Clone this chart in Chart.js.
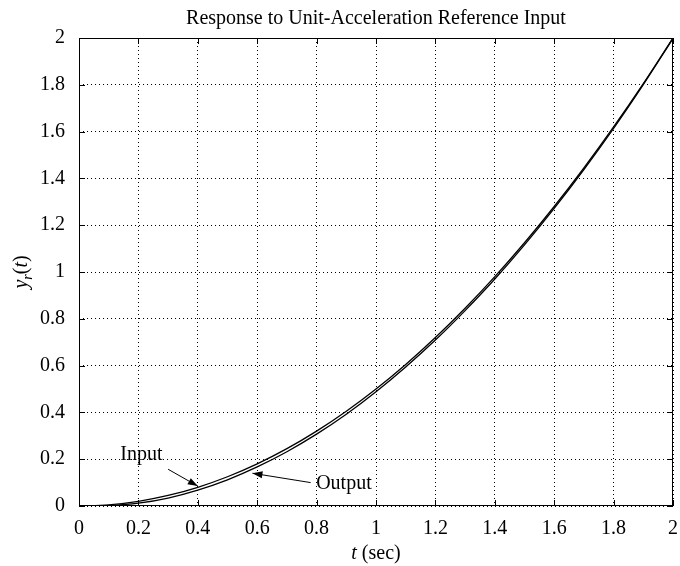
<!DOCTYPE html>
<html>
<head>
<meta charset="utf-8">
<script src="https://cdn.jsdelivr.net/npm/chart.js@4"></script>
<style>
  html, body { margin: 0; padding: 0; background: #fff; }
  #wrap { width: 680px; height: 566px; }
</style>
</head>
<body>
<div id="wrap"><canvas id="chart" width="680" height="566"></canvas></div>
<script>
// time axis (sec)
const times = [0, 0.1, 0.2, 0.3, 0.4, 0.5, 0.6, 0.7, 0.8, 0.9, 1.0, 1.1, 1.2, 1.3, 1.4, 1.5, 1.6, 1.7, 1.8, 1.9, 2.0];
// reference input and system output
const inputVals = [0, 0.005, 0.02, 0.045, 0.08, 0.125, 0.18, 0.245, 0.32, 0.405, 0.5, 0.605, 0.72, 0.845, 0.98, 1.125, 1.28, 1.445, 1.62, 1.805, 2.0];
const outputVals = [0, 0.002, 0.012, 0.034, 0.068, 0.112, 0.167, 0.232, 0.307, 0.392, 0.488, 0.594, 0.709, 0.835, 0.970, 1.116, 1.272, 1.438, 1.614, 1.801, 1.998];
const xTicks = [0, 0.2, 0.4, 0.6, 0.8, 1, 1.2, 1.4, 1.6, 1.8, 2];
const yTicks = [0, 0.2, 0.4, 0.6, 0.8, 1, 1.2, 1.4, 1.6, 1.8, 2];

// text labels with arrows, in data units
const notes = [
    { text: 'Input', x: 0.21, y: 0.221, from: [0.30, 0.157], to: [0.40, 0.085] },
    { text: 'Output', x: 0.892, y: 0.094, from: [0.78, 0.10], to: [0.584, 0.14] },
];

const FONT = '"Liberation Serif", "Times New Roman", serif';
const FS = 20;

const pts = (vals) => times.map((t, i) => ({ x: t, y: vals[i] }));

const frame = {
    id: 'frame',
    afterDraw(chart) {
        const c = chart.ctx;
        const a = chart.chartArea;
        const xs = chart.scales.x, ys = chart.scales.y;
        c.save();
        // box
        c.strokeStyle = '#000';
        c.lineWidth = 1;
        c.strokeRect(a.left + 0.5, a.top + 0.5, a.right - a.left - 1, a.bottom - a.top - 1);
        // inward tick marks on all sides
        c.beginPath();
        xTicks.forEach(v => {
            const px = Math.round(xs.getPixelForValue(v)) + 0.5;
            c.moveTo(px, a.bottom); c.lineTo(px, a.bottom - 6);
            c.moveTo(px, a.top); c.lineTo(px, a.top + 6);
        });
        yTicks.forEach(v => {
            const py = Math.round(ys.getPixelForValue(v)) + 0.5;
            c.moveTo(a.left, py); c.lineTo(a.left + 6, py);
            c.moveTo(a.right, py); c.lineTo(a.right - 6, py);
        });
        c.stroke();

        // title
        c.fillStyle = '#000';
        c.font = FS + 'px ' + FONT;
        c.textAlign = 'center';
        c.textBaseline = 'alphabetic';
        c.fillText('Response to Unit-Acceleration Reference Input', (a.left + a.right) / 2, 24);

        // x title: italic t + " (sec)"
        c.font = 'italic ' + FS + 'px ' + FONT;
        const tW = c.measureText('t').width;
        c.font = FS + 'px ' + FONT;
        const rest = ' (sec)';
        const rW = c.measureText(rest).width;
        let sx = (a.left + a.right) / 2 - (tW + rW) / 2;
        c.textAlign = 'left';
        c.font = 'italic ' + FS + 'px ' + FONT;
        c.fillText('t', sx, 559);
        c.font = FS + 'px ' + FONT;
        c.fillText(rest, sx + tW, 559);

        // y title: y_r(t), rotated
        c.translate(27, (a.top + a.bottom) / 2);
        c.rotate(-Math.PI / 2);
        const parts = [
            ['y', 'italic ' + FS + 'px ' + FONT, 0],
            ['r', 'italic 14px ' + FONT, 5],
            ['(', FS + 'px ' + FONT, 0],
            ['t', 'italic ' + FS + 'px ' + FONT, 0],
            [')', FS + 'px ' + FONT, 0],
        ];
        let total = 0;
        parts.forEach(p => { c.font = p[1]; total += c.measureText(p[0]).width; });
        let px = -total / 2;
        parts.forEach(p => {
            c.font = p[1];
            c.fillText(p[0], px, p[2]);
            px += c.measureText(p[0]).width;
        });
        c.restore();

        // annotations
        c.save();
        c.fillStyle = '#000';
        c.strokeStyle = '#000';
        c.lineWidth = 1;
        c.font = FS + 'px ' + FONT;
        c.textAlign = 'center';
        c.textBaseline = 'middle';
        notes.forEach(n => {
            c.fillText(n.text, xs.getPixelForValue(n.x), ys.getPixelForValue(n.y));
            const x0 = xs.getPixelForValue(n.from[0]), y0 = ys.getPixelForValue(n.from[1]);
            const x1 = xs.getPixelForValue(n.to[0]), y1 = ys.getPixelForValue(n.to[1]);
            c.beginPath();
            c.moveTo(x0, y0); c.lineTo(x1, y1);
            c.stroke();
            const ang = Math.atan2(y1 - y0, x1 - x0);
            const L = 10, W = 3.5;
            c.beginPath();
            c.moveTo(x1, y1);
            c.lineTo(x1 - L * Math.cos(ang) + W * Math.sin(ang), y1 - L * Math.sin(ang) - W * Math.cos(ang));
            c.lineTo(x1 - L * Math.cos(ang) - W * Math.sin(ang), y1 - L * Math.sin(ang) + W * Math.cos(ang));
            c.closePath();
            c.fill();
        });
        c.restore();
    }
};

const ctx = document.getElementById('chart').getContext('2d');
const chart = new Chart(ctx, {
    type: 'line',
    data: {
        datasets: [
            {
                label: 'Input',
                data: pts(inputVals),
                borderColor: '#000',
                borderWidth: 1.3,
                pointRadius: 0,
                cubicInterpolationMode: 'monotone',
            },
            {
                label: 'Output',
                data: pts(outputVals),
                borderColor: '#000',
                borderWidth: 1.3,
                pointRadius: 0,
                cubicInterpolationMode: 'monotone',
            },
        ],
    },
    options: {
        responsive: false,
        animation: false,
        layout: { padding: { left: 0, right: 7, top: 38, bottom: 0 } },
        plugins: {
            legend: { display: false },
            tooltip: { enabled: false },
        },
        scales: {
            x: {
                type: 'linear',
                min: 0,
                max: 2,
                afterBuildTicks: s => { s.ticks = xTicks.map(v => ({ value: v })); },
                afterFit: s => { s.height = 60; s.paddingLeft = 0; s.paddingRight = 0; },
                border: { display: false, dash: [1, 3] },
                grid: {
                    color: '#000',
                    lineWidth: 1,
                    drawTicks: false,
                },
                ticks: {
                    color: '#000',
                    font: { family: FONT, size: FS },
                    padding: 11,
                    maxRotation: 0,
                    callback: v => String(v),
                },
            },
            y: {
                type: 'linear',
                min: 0,
                max: 2,
                afterBuildTicks: s => { s.ticks = yTicks.map(v => ({ value: v })); },
                afterFit: s => { s.width = 79; s.paddingTop = 0; s.paddingBottom = 0; },
                border: { display: false, dash: [1, 3] },
                grid: {
                    color: '#000',
                    lineWidth: 1,
                    drawTicks: false,
                },
                ticks: {
                    color: '#000',
                    font: { family: FONT, size: FS },
                    padding: 14,
                    callback: v => String(v),
                },
            },
        },
    },
    plugins: [frame],
});
</script>
</body>
</html>
